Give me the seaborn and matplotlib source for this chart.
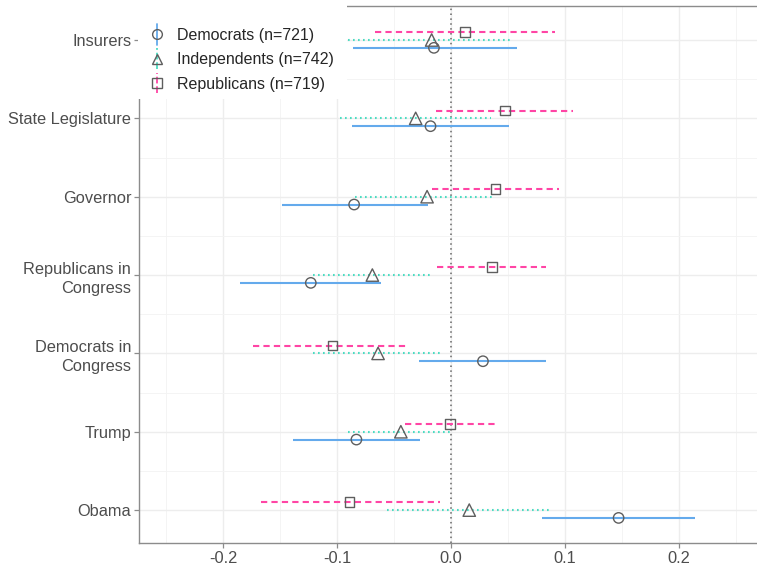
import numpy as np
import pandas as pd
import matplotlib
matplotlib.use("Agg")
import matplotlib.pyplot as plt
from matplotlib.lines import Line2D
from matplotlib.patches import Rectangle
from matplotlib.legend_handler import HandlerBase
from matplotlib.ticker import MultipleLocator
import seaborn as sns

# ------------------------------------------------------------------
# Data (point estimates and interval ends)
# ------------------------------------------------------------------
targets = ["Insurers", "State Legislature", "Governor", "Republicans in\nCongress",
           "Democrats in\nCongress", "Trump", "Obama"]
groups = ["Democrats (n=721)", "Independents (n=742)", "Republicans (n=719)"]

dem_est = [-0.015, -0.018, -0.085, -0.123, 0.028, -0.083, 0.147]
dem_lo = [-0.086, -0.087, -0.148, -0.185, -0.028, -0.139, 0.080]
dem_hi = [0.058, 0.051, -0.020, -0.061, 0.083, -0.027, 0.214]

ind_est = [-0.017, -0.031, -0.021, -0.069, -0.064, -0.044, 0.016]
ind_lo = [-0.090, -0.097, -0.084, -0.121, -0.121, -0.090, -0.056]
ind_hi = [0.053, 0.035, 0.037, -0.018, -0.008, 0.001, 0.086]

rep_est = [0.012, 0.047, 0.039, 0.036, -0.104, -0.001, -0.089]
rep_lo = [-0.067, -0.013, -0.017, -0.012, -0.174, -0.040, -0.167]
rep_hi = [0.091, 0.107, 0.095, 0.083, -0.037, 0.039, -0.010]

frames = []
for g, est, lo, hi in zip(groups, [dem_est, ind_est, rep_est],
                          [dem_lo, ind_lo, rep_lo], [dem_hi, ind_hi, rep_hi]):
    frames.append(pd.DataFrame({"target": targets, "group": g,
                                "est": est, "lo": lo, "hi": hi}))
df = pd.concat(frames, ignore_index=True)

# styling per group
colors = {groups[0]: "#64aaec", groups[1]: "#4cdcc2", groups[2]: "#ff45a5"}
dashes = {groups[0]: "-", groups[1]: (0, (0.8, 1.6)), groups[2]: (0, (3, 2))}
markers = {groups[0]: "o", groups[1]: "^", groups[2]: "s"}
msize = {groups[0]: 56, groups[1]: 80, groups[2]: 50}
offset = {groups[0]: 0.1, groups[1]: 0.0, groups[2]: -0.1}

df["ypos"] = df["target"].map({t: i for i, t in enumerate(targets)}) + df["group"].map(offset)

sns.set_theme(style="white")
plt.rcParams["font.family"] = ["Liberation Sans", "DejaVu Sans"]
FS = 11.8

fig = plt.figure(figsize=(7.57, 5.69), dpi=100)
ax = fig.add_axes([139 / 757, 26 / 569, 1 - 139 / 757, 537 / 569])

# gridlines
ax.xaxis.set_major_locator(MultipleLocator(0.1))
ax.xaxis.set_minor_locator(MultipleLocator(0.05))
ax.set_yticks(range(len(targets)))
ax.set_yticks(np.arange(0.5, len(targets) - 1, 1.0), minor=True)
ax.grid(True, which="major", color="#ededed", linewidth=1.0, zorder=0)
ax.grid(True, which="minor", color="#f3f3f3", linewidth=0.6, zorder=0)
ax.set_axisbelow(True)

ax.axvline(0, color="#666666", linestyle=(0, (1, 2.2)), linewidth=1.1, zorder=1)

# intervals
for g in groups:
    sub = df[df["group"] == g]
    ax.hlines(sub["ypos"], sub["lo"], sub["hi"], colors=colors[g],
              linestyles=[dashes[g]], linewidth=1.5, zorder=2)

# point estimates
for g in groups:
    sub = df[df["group"] == g]
    sns.scatterplot(data=sub, x="est", y="ypos", marker=markers[g], s=msize[g],
                    facecolors="none", edgecolor="#5e5e5e", linewidth=1.0,
                    ax=ax, legend=False, zorder=3)

ax.set_xlim(-0.2737, 0.2684)
ax.set_ylim(len(targets) - 1 + 0.42, -0.434)
ax.set_xticks([-0.2, -0.1, 0.0, 0.1, 0.2])
ax.set_xticklabels(["-0.2", "-0.1", "0.0", "0.1", "0.2"])
ax.set_yticklabels(targets, ha="right")
ax.set_xlabel("")
ax.set_ylabel("")

ax.tick_params(axis="both", which="major", length=3.5, width=0.9, color="#8c8c8c",
               labelsize=FS, labelcolor="#4d4d4d", pad=2, left=True, bottom=True)
ax.tick_params(axis="both", which="minor", length=0)
for lab in ax.get_yticklabels():
    lab.set_multialignment("right")
    lab.set_linespacing(1.35)

for side in ["left", "bottom", "top"]:
    ax.spines[side].set_color("#8c8c8c")
    ax.spines[side].set_linewidth(1.0)
ax.spines["right"].set_visible(False)

# white block behind the legend (covers grid and axis border)
ax.add_patch(Rectangle((138 / 757, 1 - 99 / 569), (347 - 138) / 757, 99 / 569 + 0.01,
                       transform=fig.transFigure, facecolor="white", edgecolor="none",
                       zorder=4, clip_on=False))


class RangeKey(HandlerBase):
    def create_artists(self, legend, orig_handle, xdescent, ydescent, width, height,
                       fontsize, trans):
        cx = width / 2 - xdescent
        cy = height / 2 - ydescent
        vline = Line2D([cx, cx], [cy - 0.65 * fontsize, cy + 0.65 * fontsize],
                       color=orig_handle.get_color(), linestyle=orig_handle.get_linestyle(),
                       linewidth=1.3, transform=trans)
        point = Line2D([cx], [cy], marker=orig_handle.get_marker(), markersize=7,
                       markerfacecolor="none", markeredgecolor="#5e5e5e",
                       markeredgewidth=1.0, linestyle="none", transform=trans)
        return [vline, point]


handles = [Line2D([], [], color=colors[g], linestyle=dashes[g], marker=markers[g])
           for g in groups]
leg = ax.legend(handles, groups, handler_map={Line2D: RangeKey()}, loc="upper left",
                bbox_to_anchor=(150 / 757, 1 - 28 / 569), bbox_transform=fig.transFigure,
                frameon=False, fontsize=11.5, handlelength=0.9, handletextpad=0.78,
                labelspacing=0.58, borderpad=0, borderaxespad=0)
leg.set_zorder(5)

fig.savefig("out.png", dpi=100)
